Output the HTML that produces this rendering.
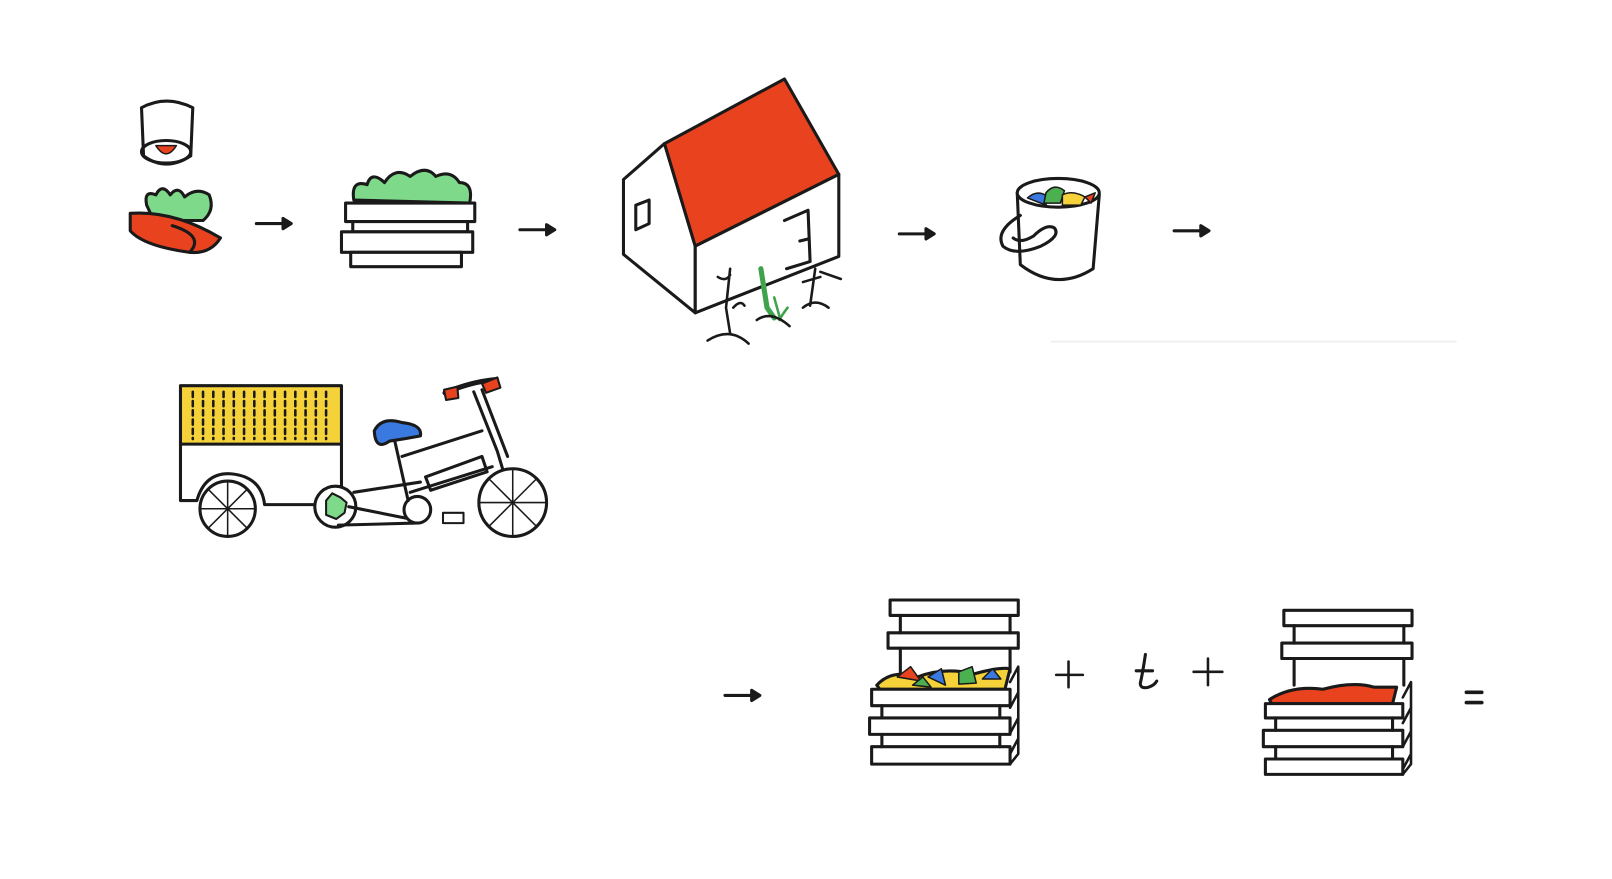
<!DOCTYPE html>
<html><head><meta charset="utf-8"><style>
html,body{margin:0;padding:0;background:#fff;}
svg{display:block;}
</style></head><body>
<svg width="1612" height="879" viewBox="0 0 1572 857" preserveAspectRatio="none" xmlns="http://www.w3.org/2000/svg">
<rect width="1572" height="857" fill="#fff"/>
<g fill="none" stroke="#1a1a1a" stroke-width="3" stroke-linecap="round" stroke-linejoin="round">
<path d="M138 105 Q162 92 188 105 L186 152 Q162 168 140 152 Z" fill="#fff"/>
<ellipse cx="162" cy="148" rx="24" ry="11"/>
<path d="M152 142 Q162 158 172 142 Z" fill="#e8421f" stroke-width="1.5"/>
<path d="M143 200 Q140 185 152 190 Q158 178 166 190 Q174 180 180 192 Q192 182 204 190 Q210 205 198 215 L150 215 Z" fill="#7fd98a"/>
<path d="M127 208 Q170 205 215 232 Q205 248 185 246 Q140 240 127 225 Z" fill="#e8421f"/>
<path d="M168 220 Q200 230 185 246" />
<path d="M250 218 L280 218"/><path d="M276 213 L284 218 L276 223 Z" fill="#1a1a1a"/>
<path d="M345 195 Q342 175 358 180 Q362 166 375 178 Q385 162 400 172 Q415 160 425 172 Q440 165 448 178 Q462 178 458 198 Z" fill="#7fd98a"/>
<rect x="337" y="198" width="126" height="18" fill="#fff"/>
<rect x="344" y="216" width="112" height="10" fill="#fff"/>
<rect x="333" y="226" width="128" height="20" fill="#fff"/>
<rect x="342" y="246" width="108" height="14" fill="#fff"/>
<path d="M507 224 L537 224"/><path d="M533 219 L541 224 L533 229 Z" fill="#1a1a1a"/>
<path d="M608 175 L648 140 L678 240 L678 305 L608 248 Z" fill="#fff"/>
<path d="M648 140 L765 77 L818 170 L678 240 Z" fill="#e8421f"/>
<path d="M678 240 L818 170 L818 250 L678 305 Z" fill="#fff"/>
<path d="M620 200 L633 195 L633 218 L620 224 Z"/>
<path d="M765 215 L788 205 L790 255 L767 262"/><path d="M780 235 L788 233"/>
<path d="M712 262 L708 300 L712 325 M700 270 Q708 275 712 268 M715 300 Q722 292 726 298" stroke-width="2.5"/>
<path d="M742 262 L748 300 L755 310" stroke="#3fa34d" stroke-width="5"/>
<path d="M755 290 L760 308 M768 300 Q762 308 760 312" stroke-width="2.5" stroke="#3fa34d"/>
<path d="M795 262 L790 298 M783 275 L800 270 M800 265 L820 272" stroke-width="2.5"/>
<path d="M690 332 Q712 318 730 335 M738 312 Q752 302 770 318 M783 300 Q795 290 808 300" stroke-width="2.5"/>
<path d="M877 228 L907 228"/><path d="M903 223 L911 228 L903 233 Z" fill="#1a1a1a"/>
<path d="M992 188 L995 258 Q1030 285 1066 262 L1072 190" fill="#fff"/>
<ellipse cx="1032" cy="188" rx="40" ry="14" fill="#fff"/>
<path d="M1002 193 Q1012 184 1022 192 L1020 200 Z" fill="#3a7ae0" stroke-width="1.5"/>
<path d="M1020 188 Q1028 178 1038 186 L1034 198 L1018 198 Z" fill="#4caf50" stroke-width="1.5"/>
<path d="M1036 190 Q1046 185 1058 192 L1054 200 L1036 200 Z" fill="#f5d23a" stroke-width="1.5"/>
<path d="M1058 192 L1068 188 L1064 198 Z" fill="#e8421f" stroke-width="1.5"/>
<path d="M995 210 Q970 225 978 240 Q990 250 1015 240 Q1035 230 1028 222 Q1020 218 1008 230 Q995 238 988 232"/>
<path d="M1145 225 L1175 225"/><path d="M1171 220 L1179 225 L1171 230 Z" fill="#1a1a1a"/>
<path d="M1025 333 L1420 333" stroke="#eee" stroke-width="1.5"/>
<rect x="176" y="376" width="157" height="57" fill="#f5d23a"/>
<g stroke-width="2.5" stroke-dasharray="5 4">
<path d="M188 382V428M198 382V428M208 382V428M218 382V428M228 382V428M238 382V428M248 382V428M258 382V428M268 382V428M278 382V428M288 382V428M298 382V428M308 382V428M318 382V428"/>
</g>
<path d="M176 433 L176 488 L192 488 Q200 460 226 462 Q255 465 258 492 L305 492 M333 433 L333 480"/>
<circle cx="222" cy="496" r="27" fill="#fff"/>
<path d="M222 470V522M196 496H248M204 478L240 514M240 478L204 514" stroke-width="1.5"/>
<circle cx="327" cy="494" r="20" fill="#fff"/>
<path d="M318 488 L324 481 L332 485 L338 490 L336 500 L328 506 L318 502 Z" fill="#7fd98a" stroke-width="2"/>
<path d="M340 494 L400 506 M345 480 L410 470 M330 512 L405 510"/>
<circle cx="407" cy="497" r="13" fill="#fff"/>
<path d="M385 430 L398 488 M392 445 L470 420 M400 480 L480 455 M415 465 L470 445 L475 460 L420 478 Z"/>
<path d="M462 382 L485 440 L500 490 M470 380 L495 445"/>
<circle cx="500" cy="490" r="33" fill="#fff"/>
<path d="M500 457V523M467 490H533M477 467L523 513M523 467L477 513" stroke-width="1.5"/>
<path d="M434 383 Q460 372 484 370" stroke-width="5"/>
<path d="M433 380 L446 377 L447 388 L435 390 Z" fill="#e8421f" stroke-width="2"/>
<path d="M470 374 L485 368 L488 378 L474 383 Z" fill="#e8421f" stroke-width="2"/>
<path d="M365 420 Q372 406 392 412 Q412 414 410 425 Q395 428 380 430 Q366 440 365 420 Z" fill="#3a7ae0"/>
<rect x="432" y="500" width="20" height="10" fill="#fff" stroke-width="2"/>
<path d="M707 678 L737 678"/><path d="M733 673 L741 678 L733 683 Z" fill="#1a1a1a"/>
<g>
<rect x="868" y="585" width="125" height="15" fill="#fff"/>
<rect x="866" y="617" width="127" height="15" fill="#fff"/>
<path d="M878 600V617M985 600V617M878 632V655M985 632V655"/>
<path d="M855 668 Q870 652 895 660 Q920 650 950 657 Q975 650 985 652 L980 672 L858 672 Z" fill="#f5d23a"/>
<path d="M875 660 L888 650 L898 664 Z" fill="#e8421f" stroke-width="1.5"/>
<path d="M905 660 L918 652 L922 668 Z" fill="#3a7ae0" stroke-width="1.5"/>
<path d="M935 655 L948 650 L952 666 L935 667 Z" fill="#4caf50" stroke-width="1.5"/>
<path d="M958 662 L968 652 L976 662 Z" fill="#3a7ae0" stroke-width="1.5"/>
<path d="M890 668 L900 660 L908 670 Z" fill="#4caf50" stroke-width="1.5"/>
<rect x="850" y="672" width="135" height="16" fill="#fff"/>
<rect x="848" y="700" width="137" height="16" fill="#fff"/>
<rect x="850" y="728" width="135" height="17" fill="#fff"/>
<path d="M860 688V700M975 688V700M860 716V728M975 716V728"/>
<path d="M985 665 L993 650 L993 735 L985 745 M985 690 L993 675 M985 715 L993 700 M985 735 L993 720" stroke-width="2.5"/>
</g>
<path d="M1030 658 H1056 M1042 645 V670" stroke-width="2.5"/>
<path d="M1117 638 Q1114 658 1112 666 Q1112 672 1120 670 Q1126 668 1128 664 M1108 654 H1124" stroke-width="3"/>
<path d="M1164 655 H1192 M1178 642 V668" stroke-width="2.5"/>
<g>
<rect x="1252" y="595" width="125" height="15" fill="#fff"/>
<rect x="1250" y="627" width="127" height="15" fill="#fff"/>
<path d="M1262 610V627M1369 610V627M1262 642V668M1369 642V668"/>
<path d="M1238 682 Q1260 668 1290 672 Q1320 664 1340 670 L1362 670 L1358 686 L1240 686 Z" fill="#e8421f"/>
<rect x="1234" y="686" width="134" height="14" fill="#fff"/>
<rect x="1232" y="712" width="136" height="16" fill="#fff"/>
<rect x="1234" y="740" width="134" height="15" fill="#fff"/>
<path d="M1244 700V712M1358 700V712M1244 728V740M1358 728V740"/>
<path d="M1368 680 L1376 665 L1376 745 L1368 755 M1368 705 L1376 690 M1368 728 L1376 713 M1368 750 L1376 735" stroke-width="2.5"/>
</g>
<path d="M1430 675 H1445 M1430 685 H1445" stroke-width="3.5"/>
</g>
</svg>
</body></html>
